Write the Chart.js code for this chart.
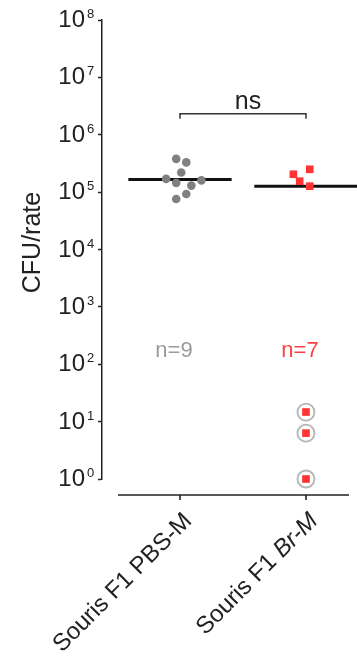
<!DOCTYPE html>
<html>
<head>
<meta charset="utf-8">
<script src="https://cdn.jsdelivr.net/npm/chart.js@4.4.1/dist/chart.umd.min.js"></script>
<style>
  html, body { margin: 0; padding: 0; background: #fff; }
  #chart { display: block; }
</style>
</head>
<body>
<canvas id="chart" width="357" height="657"></canvas>
<script>
// group names; the italic tail of each name is kept apart
const categories   = ['Souris F1 PBS-M', 'Souris F1 Br-M'];
const italicSuffix = ['', 'Br-M'];

// CFU per spleen
const pbsValues = [3.8e5, 3.3e5, 2.2e5, 1.7e5, 1.45e5, 1.6e5, 1.3e5, 9.3e4, 7.6e4];
const pbsJitter = [-0.03, 0.05, 0.01, -0.11, -0.03, 0.17, 0.09, 0.05, -0.03];
const brValues  = [2.05e5, 2.5e5, 1.55e5, 1.27e5, 14.7, 6.3, 1];
const brJitter  = [-0.10, 0.03, -0.05, 0.03, 0, 0, 0];
const brRinged  = [false, false, false, false, true, true, true];
const medians   = [1.66e5, 1.27e5];

const yTickExps = [0, 1, 2, 3, 4, 5, 6, 7, 8];
const nColors   = ['#9a9a9a', '#ff4040'];
const sigLabel  = 'ns';

const FONT = '"Liberation Sans", Arial, sans-serif';
const INK = '#222';

const pts = (vals, jit, cat) => vals.map((v, i) => ({ x: cat + jit[i], y: v }));
const medianLine = (cat, v) => [{ x: cat - 0.41, y: v }, { x: cat + 0.41, y: v }];

// axes, tick text, rotated labels, n= and the bracket
const decor = {
  id: 'decor',
  afterDraw(chart) {
    const { ctx, chartArea: ca, scales: { x, y } } = chart;
    ctx.save();
    ctx.fillStyle = INK;
    ctx.strokeStyle = INK;

    // y tick labels as 10 with a raised exponent
    yTickExps.forEach(e => {
      const py = y.getPixelForValue(Math.pow(10, e));
      ctx.font = '24px ' + FONT;
      ctx.textAlign = 'right';
      ctx.textBaseline = 'alphabetic';
      ctx.fillText('10', ca.left - 17, py + 7);
      ctx.font = '13px ' + FONT;
      ctx.textAlign = 'left';
      ctx.fillText(String(e), ca.left - 15, py - 2);
    });

    // y title
    ctx.save();
    ctx.translate(40, y.getPixelForValue(1e4) - 7);
    ctx.rotate(-Math.PI / 2);
    ctx.font = '25px ' + FONT;
    ctx.textAlign = 'center';
    ctx.fillText('CFU/rate', 0, 0);
    ctx.restore();

    // offset x axis with its ticks
    const axisY = ca.bottom + 16;
    ctx.lineWidth = 1.6;
    ctx.beginPath();
    ctx.moveTo(ca.left + 16, axisY);
    ctx.lineTo(ca.right - 8, axisY);
    categories.forEach((c, i) => {
      const px = x.getPixelForValue(i + 1);
      ctx.moveTo(px, axisY);
      ctx.lineTo(px, axisY + 5);
    });
    ctx.stroke();

    // rotated category labels, italic tail drawn separately
    categories.forEach((c, i) => {
      const px = x.getPixelForValue(i + 1);
      const tail = italicSuffix[i];
      const head = tail ? c.slice(0, c.length - tail.length) : c;
      ctx.save();
      ctx.translate(px + 13, axisY + 27);
      ctx.rotate(-Math.PI / 4);
      ctx.textAlign = 'right';
      let w = 0;
      if (tail) {
        ctx.font = 'italic 24px ' + FONT;
        ctx.fillText(tail, 0, 0);
        w = ctx.measureText(tail).width;
      }
      ctx.font = '24px ' + FONT;
      ctx.fillText(head, -w, 0);
      ctx.restore();
    });

    // n= counts
    const counts = [pbsValues.length, brValues.length];
    ctx.font = '22px ' + FONT;
    ctx.textAlign = 'center';
    counts.forEach((n, i) => {
      ctx.fillStyle = nColors[i];
      ctx.fillText('n=' + n, x.getPixelForValue(i + 1) - 6, y.getPixelForValue(100) - 7);
    });

    // significance bracket
    const bx1 = x.getPixelForValue(1), bx2 = x.getPixelForValue(2);
    const by = y.getPixelForValue(1e6) - 21;
    ctx.strokeStyle = '#333';
    ctx.lineWidth = 1.5;
    ctx.beginPath();
    ctx.moveTo(bx1, by + 5);
    ctx.lineTo(bx1, by);
    ctx.lineTo(bx2, by);
    ctx.lineTo(bx2, by + 5);
    ctx.stroke();
    ctx.fillStyle = INK;
    ctx.font = '25px ' + FONT;
    ctx.fillText(sigLabel, (bx1 + bx2) / 2 + 5, by - 5);

    ctx.restore();
  }
};

new Chart(document.getElementById('chart'), {
  type: 'scatter',
  data: {
    datasets: [
      { label: 'PBS median', type: 'line', data: medianLine(1, medians[0]),
        borderColor: '#111', borderWidth: 3, pointRadius: 0, order: 3 },
      { label: 'Br median', type: 'line', data: medianLine(2, medians[1]),
        borderColor: '#111', borderWidth: 3, pointRadius: 0, order: 3 },
      { label: 'Br ring',
        data: pts(brValues, brJitter, 2).filter((p, i) => brRinged[i]),
        pointStyle: 'circle', pointRadius: 8.5, backgroundColor: '#fff',
        borderColor: '#b5b5b5', borderWidth: 1.8, order: 2 },
      { label: 'PBS', data: pts(pbsValues, pbsJitter, 1),
        pointStyle: 'circle', pointRadius: 4.3, backgroundColor: '#808080',
        borderWidth: 0, order: 1 },
      { label: 'Br', data: pts(brValues, brJitter, 2),
        pointStyle: 'rect', pointRadius: 5.4, backgroundColor: '#ff3333',
        borderWidth: 0, order: 1 }
    ]
  },
  options: {
    responsive: false,
    animation: false,
    devicePixelRatio: 1,
    layout: { autoPadding: false, padding: { top: 20, bottom: 178, left: 0, right: 0 } },
    plugins: { legend: { display: false }, tooltip: { enabled: false } },
    elements: { point: { hoverRadius: 0 } },
    datasets: { scatter: { clip: false }, line: { clip: false } },
    scales: {
      x: { type: 'linear', min: 0.381, max: 2.405, display: false },
      y: {
        type: 'logarithmic', min: 1, max: 1e8,
        afterBuildTicks: s => { s.ticks = yTickExps.map(e => ({ value: Math.pow(10, e) })); },
        afterFit: s => { s.width = 102; },
        ticks: { display: false },
        grid: { drawOnChartArea: false, drawTicks: true, tickLength: 4,
                tickWidth: 1.5, tickColor: INK },
        border: { display: true, color: INK, width: 1.5 }
      }
    }
  },
  plugins: [decor]
});
</script>
</body>
</html>
